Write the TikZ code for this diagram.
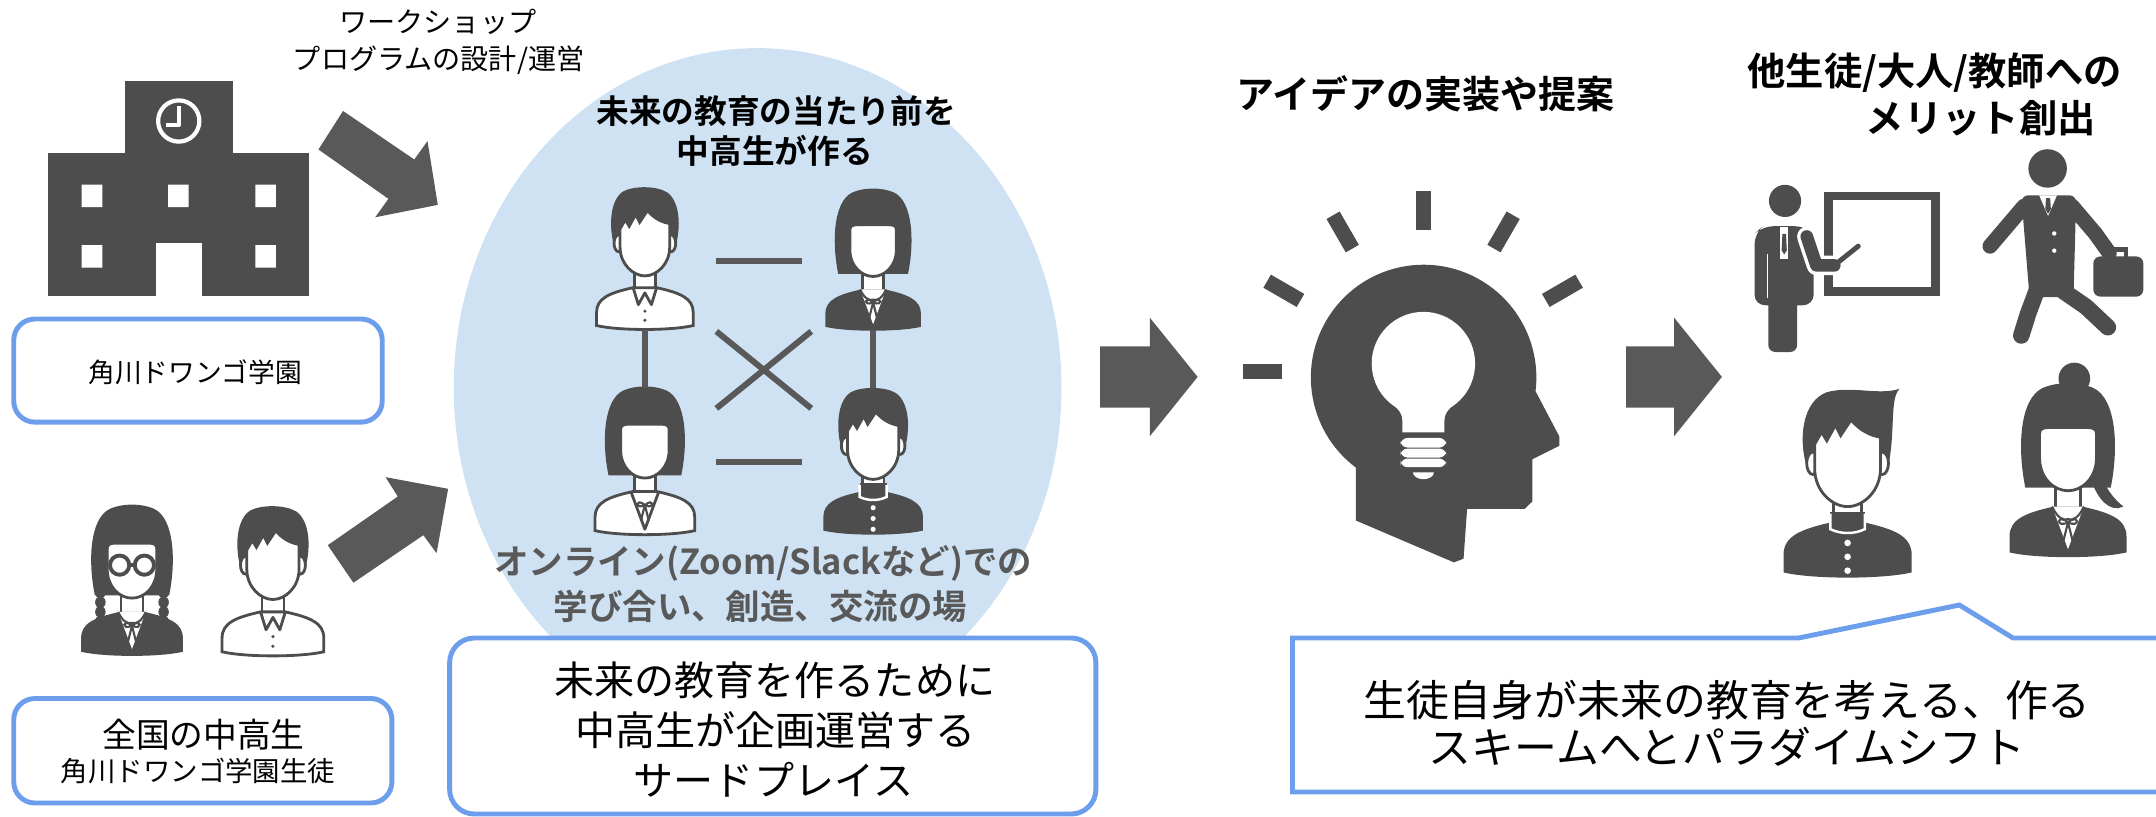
\documentclass[tikz,border=0pt]{standalone}
\usepackage{fontspec}
\setmainfont{Noto Sans CJK JP}[BoldFont={Noto Sans CJK JP Bold}]
\usetikzlibrary{calc}
\definecolor{ink}{HTML}{4D4D4D}
\definecolor{arrowgray}{HTML}{595959}
\definecolor{bubble}{HTML}{CFE2F3}
\definecolor{frame}{HTML}{6D9EEB}
\newcommand\jfs[1]{\fontsize{#1pt}{#1pt}\selectfont}
% shoulder outline shared by all avatars (local frame: origin at top of head, y down)
\newcommand\avShoulders[1]{\path[#1] (-37,105) -- (-37,95) .. controls (-37,84) and (-27,80) .. (-9,76) -- (9,76) .. controls (27,80) and (37,84) .. (37,95) -- (37,105) .. controls (20,109) and (-20,109) .. (-37,105) -- cycle;}
\tikzset{
  ol/.style={draw=ink, line width=0.8pt},
  frm/.style={draw=frame, line width=1.4pt, fill=white},
  link/.style={draw=arrowgray, line width=1.7pt},
  blockarrow/.style={fill=arrowgray},
  txt/.style={inner sep=0pt, align=center},
  part/.style={transform shape},
  % hair
  pics/hairboy/.style={code={\fill[ink] (-23,46) .. controls (-28,30) and (-27,8) .. (-16,2) .. controls (-8,-2) and (9,-2) .. (17,3) .. controls (27,10) and (28,30) .. (23,46) -- cycle;}},
  pics/hairpomp/.style={code={\fill[ink] (-23,46) .. controls (-29,28) and (-26,6) .. (-12,1) .. controls (2,-3) and (18,3) .. (30,-1) .. controls (24,5) and (28,24) .. (23,46) -- cycle;}},
  pics/hairbob/.style={code={\fill[ink] (-27,64) .. controls (-32,40) and (-31,8) .. (-16,1) .. controls (-7,-3) and (7,-3) .. (16,1) .. controls (31,8) and (32,40) .. (27,64) -- cycle;}},
  pics/bun/.style={code={\fill[ink] (4,-5) circle (10);
    \fill[ink] (18,50) .. controls (24,66) and (30,72) .. (35,76) .. controls (27,80) and (19,72) .. (15,60) -- cycle;}},
  pics/braids/.style={code={\foreach \yy in {62,69,76,83}{\fill[ink] (-23,\yy) ellipse [x radius=3.8, y radius=4.4]; \fill[ink] (23,\yy) ellipse [x radius=3.8, y radius=4.4];}}},
  % neck
  pics/neck/.style={code={\filldraw[fill=white,ol] (-8,58) -- (-8,80) -- (8,80) -- (8,58);}},
  % bodies
  pics/bodyshirt/.style={code={
    \avShoulders{fill=white,ol}
    \draw[ol,line join=round] (-9,76) -- (-5,89) -- (0,80) -- (5,89) -- (9,76);
    \fill[ink] (0,94) circle (1.3) (0,101) circle (1.3);}},
  pics/bodyblouse/.style={code={
    \avShoulders{fill=white,ol}
    \draw[ol,line join=round] (-10,77) -- (0,104) -- (10,77);
    \draw[ink,line width=0.6pt] (0,86) .. controls (-7,80) and (-8,90) .. (0,86) .. controls (8,90) and (7,80) .. (0,86);
    \draw[ink,line width=0.6pt] (0,86) -- (-3,98) (0,86) -- (3,98);}},
  pics/bodydark/.style={code={
    \avShoulders{fill=ink}
    \fill[white] (-10,76) -- (10,76) -- (0,103) -- cycle;
    \draw[ink,line width=0.6pt] (-10,76) .. controls (-7,83) and (-3,85) .. (0,84) .. controls (3,85) and (7,83) .. (10,76);
    \draw[ink,line width=0.6pt] (0,86) .. controls (-7,80) and (-8,90) .. (0,86) .. controls (8,90) and (7,80) .. (0,86);
    \draw[ink,line width=0.6pt] (0,86) -- (-3,98) (0,86) -- (3,98);}},
  pics/bodygaku/.style={code={
    \avShoulders{fill=ink}
    \fill[ink] (-10,70) rectangle (10,81);
    \draw[white,line width=0.7pt] (-10,71) -- (-10,80) .. controls (-4,83) and (4,83) .. (10,80) -- (10,71);
    \fill[white] (0,88) circle (1.9) (0,96) circle (1.9) (0,104) circle (1.9);}},
  % faces
  pics/faceboy/.style={code={
    \filldraw[fill=white,ol] (-20,42) ellipse [x radius=3.6, y radius=6.5];
    \filldraw[fill=white,ol] (20,42) ellipse [x radius=3.6, y radius=6.5];
    \filldraw[fill=white,ol] (-19,31) -- (-15,24) -- (-12,29) -- (-7,20) -- (-4,26) -- (2,17) .. controls (8,24) and (14,26) .. (19,27) -- (19,45) .. controls (19,58) and (9,67) .. (0,67) .. controls (-9,67) and (-19,58) .. (-19,45) -- cycle;}},
  pics/facegirl/.style={code={
    \filldraw[fill=white,ol] (-18,30) .. controls (-18,27) and (-16,26) .. (-12,26) -- (12,26) .. controls (16,26) and (18,27) .. (18,30) -- (18,45) .. controls (18,58) and (9,66) .. (0,66) .. controls (-9,66) and (-18,58) .. (-18,45) -- cycle;}},
  pics/glasses/.style={code={
    \filldraw[fill=white,draw=ink,line width=1.1pt] (-9,42) circle (7) (9,42) circle (7);
    \draw[ink,line width=1.1pt] (-2,42) -- (2,42);}},
  % complete avatars
  pics/avBoyShirt/.style={code={\pic[part]{hairboy}; \pic[part]{neck}; \pic[part]{bodyshirt}; \pic[part]{faceboy};}},
  pics/avBoyGaku/.style={code={\pic[part]{hairboy}; \pic[part]{neck}; \pic[part]{bodygaku}; \pic[part]{faceboy};}},
  pics/avBoyPomp/.style={code={\pic[part]{hairpomp}; \pic[part]{neck}; \pic[part]{bodygaku}; \pic[part]{faceboy};}},
  pics/avGirlDark/.style={code={\pic[part]{hairbob}; \pic[part]{neck}; \pic[part]{bodydark}; \pic[part]{facegirl};}},
  pics/avGirlBlouse/.style={code={\pic[part]{hairbob}; \pic[part]{neck}; \pic[part]{bodyblouse}; \pic[part]{facegirl};}},
  pics/avGirlBun/.style={code={\pic[part]{bun}; \pic[part]{hairbob}; \pic[part]{neck}; \pic[part]{bodydark}; \pic[part]{facegirl};}},
  pics/avGirlGlasses/.style={code={\pic[part]{hairbob}; \pic[part]{braids}; \pic[part]{neck}; \pic[part]{bodydark}; \pic[part]{facegirl}; \pic[part]{glasses};}},
}
\begin{document}
\begin{tikzpicture}[x=0.1375mm,y=-0.1375mm]
\useasboundingbox (0,0) rectangle (1568,594);

% ---------- school building ----------
\fill[ink] (90.8,58.7) rectangle (169.3,112);
\fill[ink] (34.9,111) rectangle (224.7,215);
\draw[white,line width=1.2pt] (130,88) circle (15);
\draw[white,line width=1.2pt,line join=round] (130,77) -- (130,91) -- (121,91);
\fill[white] (59.4,134.3) rectangle (74.4,150.7) (122.3,134.3) rectangle (137.2,150.7) (185.7,134.3) rectangle (200.7,150.7);
\fill[white] (59.4,178.3) rectangle (74.4,194.6) (185.7,178.3) rectangle (200.7,194.6);
\fill[white] (113.3,177) rectangle (146.8,215.5);

\node[txt,font=\jfs{8}] (ws1) at (318.5,16) {ワークショップ};
\node[txt,font=\jfs{8}] (ws2) at (319,44) {プログラムの設計/運営};

\draw[frm,rounded corners=6pt] (10,232) rectangle (278,307);
\node[txt,font=\jfs{7.6}] (school) at (142,271) {角川ドワンゴ学園};

% ---------- students ----------
\pic[scale=1,transform shape] at (96,369) {avGirlGlasses};
\pic[scale=1,transform shape] at (198.5,369) {avBoyShirt};
\draw[frm,rounded corners=6pt] (10,508) rectangle (285,584);
\node[txt,font=\jfs{9.6}] (nation) at (148,534) {全国の中高生};
\node[txt,font=\jfs{7.8}] (pupils) at (144,561) {角川ドワンゴ学園生徒};

% ---------- block arrows ----------
\fill[blockarrow] (249.5,80.7) -- (301.3,116) -- (310.9,102.6) -- (318.4,149) -- (272.9,158) -- (282.5,144.6) -- (231.6,108.7) -- cycle;
\fill[blockarrow] (257,423.8) -- (307.9,389.2) -- (317.5,402.3) -- (325.9,355.5) -- (280.4,347) -- (289.3,361.1) -- (238.4,396.5) -- cycle;
\fill[blockarrow] (800,251.9) -- (836.2,251.9) -- (836.2,231) -- (871,274.1) -- (836.2,317.3) -- (836.2,296.4) -- (800,296.4) -- cycle;
\fill[blockarrow] (1182.7,251.9) -- (1217.5,251.9) -- (1217.5,231) -- (1252.3,274.1) -- (1217.5,317.3) -- (1217.5,296.4) -- (1182.7,296.4) -- cycle;

% ---------- third place bubble ----------
\fill[bubble] (551,282) ellipse [x radius=221, y radius=247];
\node[txt,font=\jfs{9.3}\bfseries] (goal1) at (564.5,81) {未来の教育の当たり前を};
\node[txt,font=\jfs{9.3}\bfseries] (goal2) at (563.5,110) {中高生が作る};

\pic[scale=0.95,transform shape] at (469,137) {avBoyShirt};
\pic[scale=0.94,transform shape] at (635,139) {avGirlDark};
\pic[scale=0.98,transform shape] at (469,283) {avGirlBlouse};
\pic[scale=0.98,transform shape] at (635,283) {avBoyGaku};
\coordinate (tl) at (469,240);
\coordinate (bl) at (469,282);
\coordinate (tr) at (635,240);
\coordinate (br) at (635,282);
\draw[link] (tl) -- (bl);
\draw[link] (tr) -- (br);
\draw[link] (521,190) -- (583,190);
\draw[link] (521,336) -- (583,336);
\draw[link] (521,241) -- (590,297);
\draw[link] (590,241) -- (521,297);

\node[txt,font=\jfs{9.8}\bfseries,text=arrowgray] (online1) at (555,410) {オンライン(Zoom/Slackなど)での};
\node[txt,font=\jfs{9.8}\bfseries,text=arrowgray] (online2) at (553,441) {学び合い、創造、交流の場};

\draw[frm,rounded corners=7pt] (327,464) rectangle (797,592);
\node[txt,font=\jfs{11.4}] (place1) at (563.5,494.5) {未来の教育を作るために};
\node[txt,font=\jfs{11.4}] (place2) at (564,531) {中高生が企画運営する};
\node[txt,font=\jfs{11.4}] (place3) at (562.5,567) {サードプレイス};

% ---------- idea head ----------
\node[txt,font=\jfs{10.8}\bfseries] (idea) at (1036.6,68) {アイデアの実装や提案};
\foreach \a in {30,60,90,120,150,180}
  \fill[ink,shift={(1035,270)},rotate=\a] (103,-5.5) rectangle (131,5.5);
\fill[ink] (986,378.5) -- (986,340) arc[start angle=127, end angle=367, radius=82] -- (1134,317.3) -- (1134,324.2) -- (1114.5,334) -- (1114.5,364.6) -- (1109,370) -- (1067,370) -- (1064.4,406.3) -- (1057.4,409) -- cycle;
\fill[white] (1035.2,264.4) circle (37.6);
\fill[white] (1004.4,286) .. controls (1014,296) and (1019.9,298) .. (1019.9,306) -- (1019.9,314.5) -- (1050.5,314.5) -- (1050.5,306) .. controls (1050.5,298) and (1056.4,296) .. (1066,286) -- cycle;
\fill[white,rounded corners=2pt] (1018.6,318.5) rectangle (1051.8,325.5);
\fill[white,rounded corners=2pt] (1018.6,326.2) rectangle (1051.8,332.8);
\fill[white,rounded corners=2pt] (1018.6,333.5) rectangle (1051.8,339.8);
\fill[white] (1027.6,343.5) -- (1042.8,343.5) arc[start angle=0, end angle=180, x radius=7.6, y radius=5] -- cycle;

% ---------- benefits ----------
\node[txt,font=\jfs{10.9}\bfseries] (merit1) at (1407,53) {他生徒/大人/教師への};
\node[txt,font=\jfs{10.9}\bfseries] (merit2) at (1440.5,86) {メリット創出};

% teacher at the board
\draw[ink,line width=2.5pt] (1329.8,142.5) rectangle (1407.4,212.2);
\fill[ink] (1298.2,146.1) circle (11.7);
\fill[ink,rounded corners=3pt] (1276,222) -- (1276,170) -- (1282,164.5) -- (1313,164.5) -- (1319,170) -- (1319,222) -- cycle;
\fill[ink,rounded corners=2pt] (1286,215) rectangle (1307,256);
\draw[white,line width=0.5pt] (1285.5,185) -- (1285.5,217);
\fill[white] (1294.5,165) rectangle (1300.7,188);
\fill[ink] (1296.3,170) -- (1298.9,170) -- (1299.5,182) -- (1297.6,185) -- (1295.7,182) -- cycle;
\draw[white,line width=5.5pt,line cap=round,line join=round] (1314,172) -- (1321,193) -- (1334,193);
\draw[white,line width=3pt,line cap=round] (1334,193) -- (1351.5,179);
\draw[ink,line width=3.6pt,line cap=round,line join=round] (1314,172) -- (1321,193) -- (1334,193);
\draw[ink,line width=1.4pt,line cap=round] (1334,193) -- (1351.5,179);

% businessman walking
\fill[ink] (1489.2,122.5) circle (14);
\fill[ink,rounded corners=2pt] (1470,142) -- (1510,142) -- (1508,216) -- (1476,216) -- cycle;
\draw[ink,line width=4.3pt,line cap=round,line join=round] (1472,150) -- (1447.3,179);
\draw[ink,line width=4.3pt,line cap=round,line join=round] (1507,150) -- (1524,170) -- (1534,184);
\fill[ink,rounded corners=2pt] (1522.4,186.5) rectangle (1558.8,215.7);
\draw[ink,line width=1.2pt] (1531,187) -- (1531,181.5) -- (1546,181.5) -- (1546,187);
\draw[ink,line width=4.7pt,line cap=round,line join=round] (1481,212) -- (1475,228) -- (1470,244);
\draw[ink,line width=4.7pt,line cap=round,line join=round] (1501,212) -- (1517,223) -- (1533,238);
\fill[white] (1483,142) -- (1496,142) -- (1489.5,157) -- cycle;
\fill[ink] (1488,144) -- (1491,144) -- (1491.5,152) -- (1489.5,155.5) -- (1487.5,152) -- cycle;
\fill[white] (1494,169.8) circle (1.6) (1494,182.3) circle (1.6);

\pic[scale=1.26,transform shape] at (1343.7,284) {avBoyPomp};
\pic[scale=1.15,transform shape] at (1504,281) {avGirlBun};

% ---------- paradigm shift callout ----------
\draw[frm] (940,464) -- (1308,464) -- (1425,440) -- (1464,464) -- (1600,464) -- (1600,576) -- (940,576) -- cycle;
\node[txt,font=\jfs{12.2}] (shift1) at (1256,509) {生徒自身が未来の教育を考える、作る};
\node[txt,font=\jfs{12.2}] (shift2) at (1256,543) {スキームへとパラダイムシフト};
\end{tikzpicture}
\end{document}
